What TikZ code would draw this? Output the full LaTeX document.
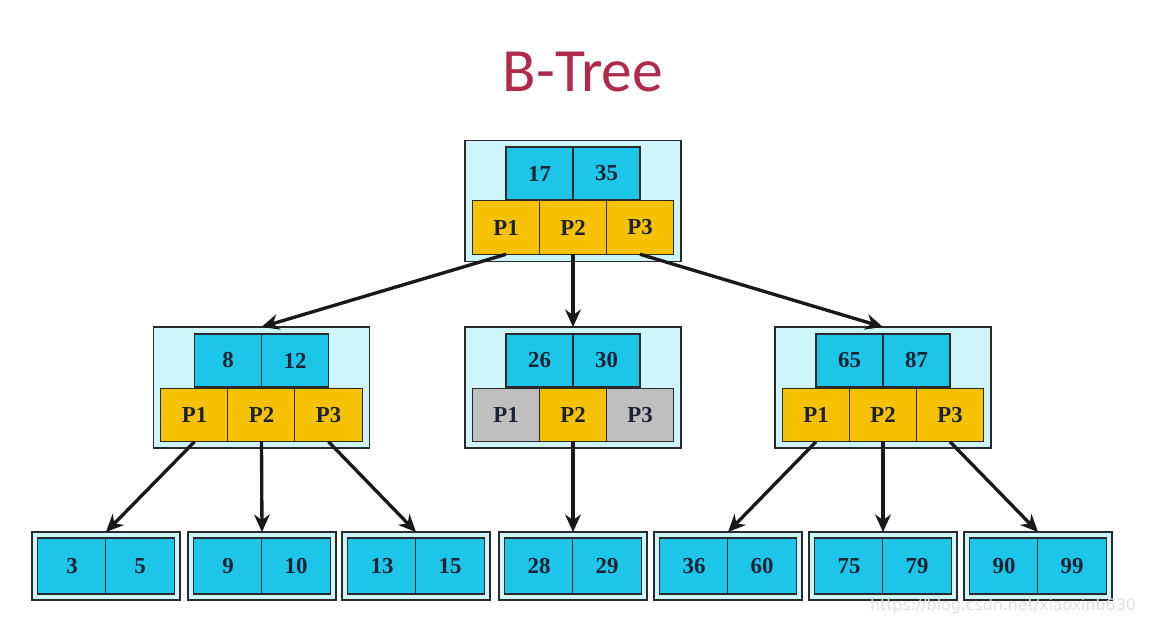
\documentclass[tikz,border=0pt]{standalone}
\usepackage{fontspec}
\setmainfont{Liberation Serif}
\newfontfamily\titlefont{Carlito}
\newfontfamily\markfont{DejaVu Sans}
\usepackage{tikz}
\usetikzlibrary{arrows.meta, positioning}
\definecolor{keycyan}{HTML}{1DC6E8}
\definecolor{boxbg}{HTML}{CDF5FA}
\definecolor{ptryellow}{HTML}{F6C200}
\definecolor{ptrgray}{HTML}{BFBFBF}
\definecolor{titlered}{HTML}{B02A4E}
\definecolor{edge}{HTML}{2A2A2A}
\definecolor{digits}{HTML}{1C2233}

\begin{document}
\begin{tikzpicture}[x=0.02cm, y=-0.02cm,
  outerbox/.style={draw=edge, line width=1pt, fill=boxbg, minimum width=4.32cm, minimum height=2.42cm, outer sep=0pt},
  leafbox/.style={draw=edge, line width=1pt, fill=boxbg, minimum width=2.96cm, minimum height=1.36cm, outer sep=0pt},
  key/.style={draw=edge, line width=0.8pt, fill=keycyan, minimum width=1.34cm, minimum height=1.06cm,
              outer sep=0pt, font=\fontsize{13}{15}\selectfont\bfseries, text=digits},
  leafkey/.style={key, minimum width=1.37cm, minimum height=1.12cm},
  ptr/.style={draw=edge, line width=0.8pt, fill=ptryellow, minimum width=1.35cm, minimum height=1.07cm,
              outer sep=0pt, font=\fontsize{13}{15}\selectfont\bfseries, text=digits},
  deadptr/.style={ptr, fill=ptrgray},
  link/.style={line width=1.9pt, black!90, -{Stealth[length=10pt, width=9pt]}}
]
  \useasboundingbox (0,0) rectangle (1152,624);

  % Title
  \node[font=\titlefont\fontsize{35}{40}\selectfont, text=titlered] (title) at (583,72) {B-Tree};

  % Root
  \node[outerbox] (root) at (573,201) {};
  \node[key] (r17) at (539.5,173.5) {17};
  \node[key] (r35) at (606.5,173.5) {35};
  \node[ptr] (rp1) at (506,227.5) {P1};
  \node[ptr] (rp2) at (573,227.5) {P2};
  \node[ptr] (rp3) at (640,227.5) {P3};

  % Second level, left
  \node[outerbox] (ml) at (261.5,387.5) {};
  \node[key] (l8) at (228,360.5) {8};
  \node[key] (l12) at (295,360.5) {12};
  \node[ptr] (lp1) at (194.5,415) {P1};
  \node[ptr] (lp2) at (261.5,415) {P2};
  \node[ptr] (lp3) at (328.5,415) {P3};

  % Second level, middle
  \node[outerbox] (mc) at (573,387.5) {};
  \node[key] (c26) at (539.5,360.5) {26};
  \node[key] (c30) at (606.5,360.5) {30};
  \node[deadptr] (cp1) at (506,415) {P1};
  \node[ptr] (cp2) at (573,415) {P2};
  \node[deadptr] (cp3) at (640,415) {P3};

  % Second level, right
  \node[outerbox] (mr) at (883,387.5) {};
  \node[key] (g65) at (849.5,360.5) {65};
  \node[key] (g87) at (916.5,360.5) {87};
  \node[ptr] (gp1) at (816,415) {P1};
  \node[ptr] (gp2) at (883,415) {P2};
  \node[ptr] (gp3) at (950,415) {P3};

  % Leaves
  \node[leafbox] (f1) at (106,566) {};
  \node[leafkey] at (72,566) {3};
  \node[leafkey] at (140,566) {5};
  \node[leafbox] (f2) at (262,566) {};
  \node[leafkey] at (228,566) {9};
  \node[leafkey] at (296,566) {10};
  \node[leafbox] (f3) at (416,566) {};
  \node[leafkey] at (382,566) {13};
  \node[leafkey] at (450,566) {15};
  \node[leafbox] (f4) at (573,566) {};
  \node[leafkey] at (539,566) {28};
  \node[leafkey] at (607,566) {29};
  \node[leafbox] (f5) at (728,566) {};
  \node[leafkey] at (694,566) {36};
  \node[leafkey] at (762,566) {60};
  \node[leafbox] (f6) at (883,566) {};
  \node[leafkey] at (849,566) {75};
  \node[leafkey] at (917,566) {79};
  \node[leafbox] (f7) at (1038,566) {};
  \node[leafkey] at (1004,566) {90};
  \node[leafkey] at (1072,566) {99};

  % Links
  \draw[link] (rp1.south) -- (ml.north);
  \draw[link] (rp2.south) -- (mc.north);
  \draw[link] (rp3.south) -- (mr.north);
  \draw[link] (lp1.south) -- (f1.north);
  \draw[link] (lp2.south) -- (f2.north);
  \draw[link] (lp3.south) -- (f3.north);
  \draw[link] (cp2.south) -- (f4.north);
  \draw[link] (gp1.south) -- (f5.north);
  \draw[link] (gp2.south) -- (f6.north);
  \draw[link] (gp3.south) -- (f7.north);

  % Watermark
  \node[font=\markfont\fontsize{9}{10}\selectfont, text=black!12, anchor=east] (mark) at (1142,606) {https://blog.csdn.net/xiaoxinb630};
\end{tikzpicture}
\end{document}
